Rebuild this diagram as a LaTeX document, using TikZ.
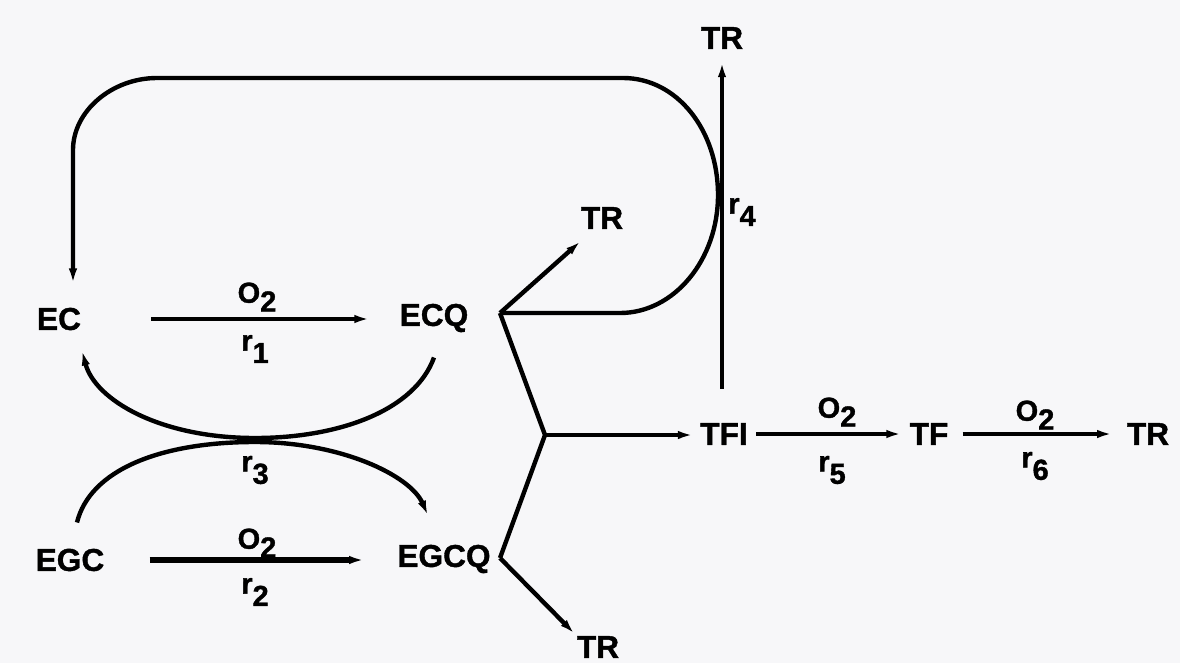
\documentclass[tikz,border=0pt]{standalone}
\usepackage{fontspec}
\setmainfont{Liberation Sans}[BoldFeatures={FakeBold=1.2}]
\usetikzlibrary{arrows.meta}
\definecolor{paper}{HTML}{F7F7F9}
\newcommand{\oxy}{O\raisebox{-5pt}{2}}
\newcommand{\rate}[1]{r\raisebox{-7pt}{#1}}

\begin{document}
\begin{tikzpicture}[
    x=0.02cm, y=-0.02cm,
    species/.style={inner sep=0pt, font=\fontsize{18}{20}\selectfont\bfseries},
    lbl/.style={inner sep=0pt, font=\fontsize{16.5}{18}\selectfont\bfseries},
    arrow/.style={-{Latex[length=0.3cm,width=0.17cm]}, line width=2.5pt},
    link/.style={line width=2.5pt, line join=round}
]
    \fill[paper] (0,0) rectangle (1180,663);
    \useasboundingbox (0,0) rectangle (1180,663);

    % Catechins and quinones
    \node[species] (ec) at (59,319) {EC};
    \node[species] (ecq) at (434,318) {ECQ};
    \node[species] (egc) at (70,560) {EGC};
    \node[species] (egcq) at (444,559) {EGCQ};

    % Theaflavins
    \node[species] (tfi) at (724,434) {TFI};
    \node[species] (tf) at (929,434) {TF};
    \node[species] (tr6) at (1148,434) {TR};

    % Thearubigins
    \node[species] (tr4) at (722,38) {TR};
    \node[species] (tra) at (602,218) {TR};
    \node[species] (trb) at (598,647) {TR};

    % Branch points
    \coordinate (j1) at (500,313);
    \coordinate (j2) at (545,435);
    \coordinate (j3) at (500,558);

    % Rate labels
    \node[lbl] (o1) at (257,297) {\oxy};
    \node[lbl] (r1) at (255,349) {\rate{1}};
    \node[lbl] (o2) at (257,543) {\oxy};
    \node[lbl] (r2) at (255,592) {\rate{2}};
    \node[lbl] (r3) at (255,470) {\rate{3}};
    \node[lbl] (r4) at (742,212) {\rate{4}};
    \node[lbl] (o5) at (837,412) {\oxy};
    \node[lbl] (r5) at (832,470) {\rate{5}};
    \node[lbl] (o6) at (1035,415) {\oxy};
    \node[lbl] (r6) at (1035,466) {\rate{6}};

    % Oxidation arrows
    \draw[arrow, shorten <=1.4cm, shorten >=0.6cm] (ec.east) -- (ec.east -| ecq.west);
    \draw[arrow, line width=3.6pt, shorten <=0.9cm, shorten >=0.66cm] (egc.east) -- (egc.east -| egcq.west);
    \draw[arrow, shorten <=0.16cm, shorten >=0.16cm] (tfi.east) -- (tfi.east -| tf.west);
    \draw[arrow, shorten <=0.28cm, shorten >=0.29cm] (tf.east) -- (tf.east -| tr6.west);

    % Exchange r3
    \draw[arrow] ([yshift=-0.5cm]ecq.south) .. controls (415,410) and (340,438) .. (255,438)
        .. controls (160,438) and (95,400) .. ([shift={(0.46cm,-0.4cm)}]ec.south);
    \draw[arrow] ([shift={(0.14cm,0.52cm)}]egc.north) .. controls (90,470) and (160,442) .. (255,442)
        .. controls (340,442) and (410,475) .. ([shift={(-0.32cm,0.58cm)}]egcq.north);

    % Quinones to TFI and TR
    \path (tra.south west) ++(0,-0.24cm) coordinate (tratip);
    \draw[arrow] (j1) -- (tratip);
    \draw[link] (j1) -- (j2) -- (j3);
    \draw[arrow, shorten >=0.14cm] (j2) -- (j2 -| tfi.west);
    \draw[arrow, shorten >=0.06cm] (j3) -- (trb.north west);

    % Loop back to EC
    \draw[arrow] (j1) -- (620,313) .. controls (674,313) and (718,260) .. (718,195)
        .. controls (718,130) and (677,78) .. (623,78) -- (157,78)
        .. controls (112,78) and (73,111) .. (73,150)
        -- ([xshift=0.28cm, yshift=0.48cm]ec.north);

    % TFI to TR
    \draw[arrow, line width=2pt, shorten <=0.68cm, shorten >=0.26cm] (tfi.north -| tr4.south) -- (tr4.south);
\end{tikzpicture}
\end{document}
